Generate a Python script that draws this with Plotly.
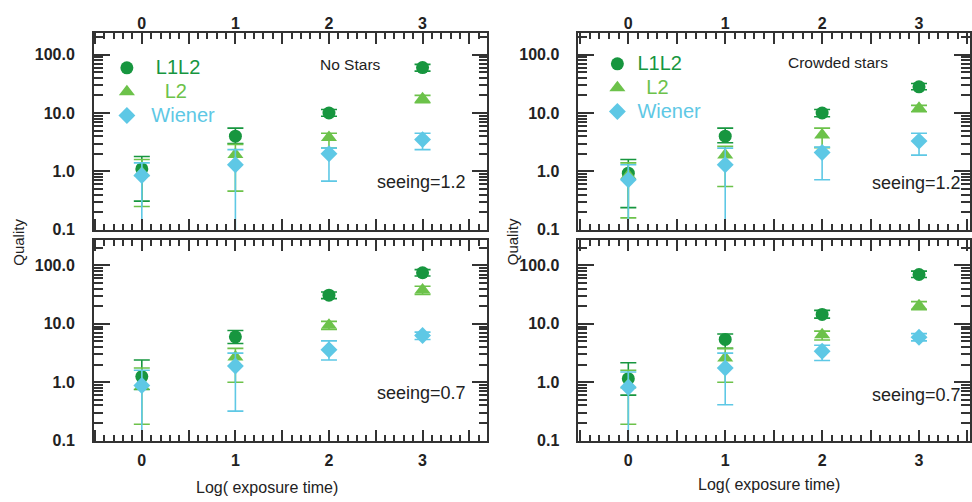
import plotly.graph_objects as go

# ---------------- data ----------------
x_vals = [0, 1, 2, 3]
series_names = ["L1L2", "L2", "Wiener"]
y_tickvals = [0.1, 1, 10, 100]
y_ticktext = ["0.1", "1.0", "10.0", "100.0"]
x_tickvals = [-0.5, 0, 0.5, 1, 1.5, 2, 2.5, 3, 3.5]
x_ticktext = ["", "0", "", "1", "", "2", "", "3", ""]

# No Stars, seeing=1.2 (top-left)
ns12_l1l2 = [1.1, 4.0, 10.0, 60]
ns12_l1l2_lo = [0.31, 3.0, 8.8, 52]
ns12_l1l2_hi = [1.8, 5.5, 11.5, 68]
ns12_l2 = [0.95, 1.95, 3.8, 17.5]
ns12_l2_lo = [0.25, 0.46, 2.5, 15]
ns12_l2_hi = [1.6, 2.9, 4.5, 20]
ns12_wiener = [0.85, 1.3, 2.0, 3.5]
ns12_wiener_lo = [0.05, 0.05, 0.68, 2.36]
ns12_wiener_hi = [1.4, 2.36, 2.5, 4.5]

# No Stars, seeing=0.7 (bottom-left)
ns07_l1l2 = [1.25, 6.0, 31, 75]
ns07_l1l2_lo = [0.75, 4.6, 27, 66]
ns07_l1l2_hi = [2.4, 7.7, 35, 85]
ns07_l2 = [0.85, 2.7, 9.5, 38]
ns07_l2_lo = [0.19, 1.0, 8.0, 32]
ns07_l2_hi = [1.75, 3.8, 11, 44]
ns07_wiener = [0.88, 1.9, 3.6, 6.3]
ns07_wiener_lo = [0.05, 0.32, 2.4, 5.4]
ns07_wiener_hi = [1.6, 3.15, 5.1, 7.2]

# Crowded stars, seeing=1.2 (top-right)
cs12_l1l2 = [0.93, 4.0, 10, 28]
cs12_l1l2_lo = [0.24, 3.1, 8.6, 25]
cs12_l1l2_hi = [1.6, 5.5, 11.5, 32]
cs12_l2 = [0.85, 1.9, 4.2, 12]
cs12_l2_lo = [0.16, 0.55, 2.55, 10.5]
cs12_l2_hi = [1.4, 2.7, 5.5, 13.5]
cs12_wiener = [0.72, 1.3, 2.1, 3.3]
cs12_wiener_lo = [0.05, 0.05, 0.72, 1.9]
cs12_wiener_hi = [1.3, 2.5, 2.6, 4.5]

# Crowded stars, seeing=0.7 (bottom-right)
cs07_l1l2 = [1.15, 5.4, 14.5, 70]
cs07_l1l2_lo = [0.6, 3.8, 12.5, 62]
cs07_l1l2_hi = [2.15, 6.7, 17, 80]
cs07_l2 = [0.9, 2.6, 6.5, 20.5]
cs07_l2_lo = [0.19, 1.0, 5.3, 17.5]
cs07_l2_hi = [1.6, 3.8, 7.5, 24]
cs07_wiener = [0.82, 1.75, 3.4, 5.9]
cs07_wiener_lo = [0.05, 0.41, 2.35, 5.1]
cs07_wiener_hi = [1.5, 3.15, 4.3, 6.8]

# ---------------- style ----------------
W, H = 972, 502
KY = 0.983  # empirical vertical calibration of the rendered page
FONT = "Arial, Liberation Sans, Helvetica, sans-serif"
INK = "#333333"
colors = {"L1L2": "#17963f", "L2": "#6cc24a", "Wiener": "#5ec8e5"}
symbols = {"L1L2": "circle", "L2": "triangle-up", "Wiener": "diamond"}
sizes = {"L1L2": 13, "L2": 14, "Wiener": 13}

def px_x(p):
    return p / W

def px_y(p):
    return 1 - p / (H * KY)

panels = [
    ("x", "y", {"L1L2": (ns12_l1l2, ns12_l1l2_lo, ns12_l1l2_hi),
                "L2": (ns12_l2, ns12_l2_lo, ns12_l2_hi),
                "Wiener": (ns12_wiener, ns12_wiener_lo, ns12_wiener_hi)}, "legend"),
    ("x2", "y2", {"L1L2": (cs12_l1l2, cs12_l1l2_lo, cs12_l1l2_hi),
                  "L2": (cs12_l2, cs12_l2_lo, cs12_l2_hi),
                  "Wiener": (cs12_wiener, cs12_wiener_lo, cs12_wiener_hi)}, "legend2"),
    ("x3", "y3", {"L1L2": (ns07_l1l2, ns07_l1l2_lo, ns07_l1l2_hi),
                  "L2": (ns07_l2, ns07_l2_lo, ns07_l2_hi),
                  "Wiener": (ns07_wiener, ns07_wiener_lo, ns07_wiener_hi)}, None),
    ("x4", "y4", {"L1L2": (cs07_l1l2, cs07_l1l2_lo, cs07_l1l2_hi),
                  "L2": (cs07_l2, cs07_l2_lo, cs07_l2_hi),
                  "Wiener": (cs07_wiener, cs07_wiener_lo, cs07_wiener_hi)}, None),
]

legend_pad = {"legend": {"L1L2": "  ", "L2": "    ", "Wiener": " "},
              "legend2": {"L1L2": "", "L2": "  ", "Wiener": ""}}

fig = go.Figure()
for xa, ya, data, leg in panels:
    for name in series_names:
        vals, lo, hi = data[name]
        plus = [h - v for h, v in zip(hi, vals)]
        minus = [v - l for v, l in zip(vals, lo)]
        label = name
        if leg:
            label = (legend_pad[leg][name] +
                     f'<span style="color:{colors[name]};font-size:20px">{name}</span>')
        fig.add_trace(go.Scatter(
            x=x_vals, y=vals, mode="markers", xaxis=xa, yaxis=ya,
            name=label, showlegend=leg is not None,
            legend=leg if leg else "legend",
            marker=dict(symbol=symbols[name], size=sizes[name], color=colors[name],
                        line=dict(width=0)),
            error_y=dict(type="data", symmetric=False, array=plus, arrayminus=minus,
                         color=colors[name], thickness=1.6, width=8),
        ))

xdom_left = [px_x(94), px_x(488)]
xdom_right = [px_x(579), px_x(971)]
ydom_top = [px_y(230), px_y(33)]
ydom_bot = [px_y(441), px_y(240)]
xr_left = [-0.512, 3.694]
xr_right = [-0.515, 3.526]
yr_top = [-1, 2.37]
yr_bot = [-1, 2.44]

minor_y = [v * m for v in [0.1, 1, 10, 100] for m in range(2, 10)]

def xaxis(dom, rng, anchor, side):
    return dict(domain=dom, range=rng, anchor=anchor, side=side,
                tickmode="array", tickvals=x_tickvals, ticktext=x_ticktext,
                ticks="inside", ticklen=11, tickwidth=2,
                tickcolor=INK, showline=True, linecolor=INK, linewidth=1.8,
                mirror="ticks", showgrid=False, zeroline=False,
                tickfont=dict(family=FONT, size=16, color="#222", weight="bold"),
                ticklabelstandoff=-4 if side == "top" else 4,
                minor=dict(tickmode="linear", tick0=0, dtick=0.1, ticks="inside",
                           ticklen=6, tickwidth=1.6, tickcolor=INK, showgrid=False))

def yaxis(dom, rng, anchor):
    return dict(domain=dom, type="log", range=rng, anchor=anchor,
                tickmode="array", tickvals=y_tickvals, ticktext=y_ticktext,
                ticks="inside", ticklen=16, tickwidth=2, tickcolor=INK,
                showline=True, linecolor=INK, linewidth=1.8, mirror="ticks",
                showgrid=False, zeroline=False,
                tickfont=dict(family=FONT, size=16, color="#222", weight="bold"),
                ticklabelstandoff=14,
                minor=dict(tickmode="array", tickvals=minor_y, ticks="inside",
                           ticklen=9, tickwidth=1.8, tickcolor=INK, showgrid=False))

fig.update_layout(
    width=W, height=H, margin=dict(l=0, r=0, t=0, b=0),
    paper_bgcolor="white", plot_bgcolor="white",
    font=dict(family=FONT, color="#222"),
    xaxis=xaxis(xdom_left, xr_left, "y", "top"),
    xaxis2=xaxis(xdom_right, xr_right, "y2", "top"),
    xaxis3=xaxis(xdom_left, xr_left, "y3", "bottom"),
    xaxis4=xaxis(xdom_right, xr_right, "y4", "bottom"),
    yaxis=yaxis(ydom_top, yr_top, "x"),
    yaxis2=yaxis(ydom_top, yr_top, "x2"),
    yaxis3=yaxis(ydom_bot, yr_bot, "x3"),
    yaxis4=yaxis(ydom_bot, yr_bot, "x4"),
    legend=dict(x=px_x(107), y=px_y(51), xanchor="left", yanchor="top",
                bgcolor="rgba(0,0,0,0)", font=dict(family=FONT, size=16),
                itemsizing="trace", tracegroupgap=0),
    legend2=dict(x=px_x(598), y=px_y(47), xanchor="left", yanchor="top",
                 bgcolor="rgba(0,0,0,0)", font=dict(family=FONT, size=16),
                 itemsizing="trace", tracegroupgap=0),
)

def note(text, x, y, size, angle=0):
    fig.add_annotation(text=text, x=px_x(x), y=px_y(y), xref="paper", yref="paper",
                       showarrow=False, textangle=angle,
                       font=dict(family=FONT, size=size, color="#222"),
                       xanchor="center", yanchor="middle")

note("No Stars", 351, 65, 15.5)
note("Crowded stars", 839, 63, 15.5)
note("seeing=1.2", 422, 182, 18)
note("seeing=1.2", 917, 183, 18)
note("seeing=0.7", 422, 393, 18)
note("seeing=0.7", 917, 395, 18)
note("Quality", 19, 242, 15, -90)
note("Quality", 513, 242, 15, -90)
note("Log( exposure time)", 267, 488, 16)
note("Log( exposure time)", 770, 485, 16)

fig.write_html("out.html", config={"displayModeBar": False},
               post_script="document.body.style.margin='0px';document.body.style.overflow='hidden';")
